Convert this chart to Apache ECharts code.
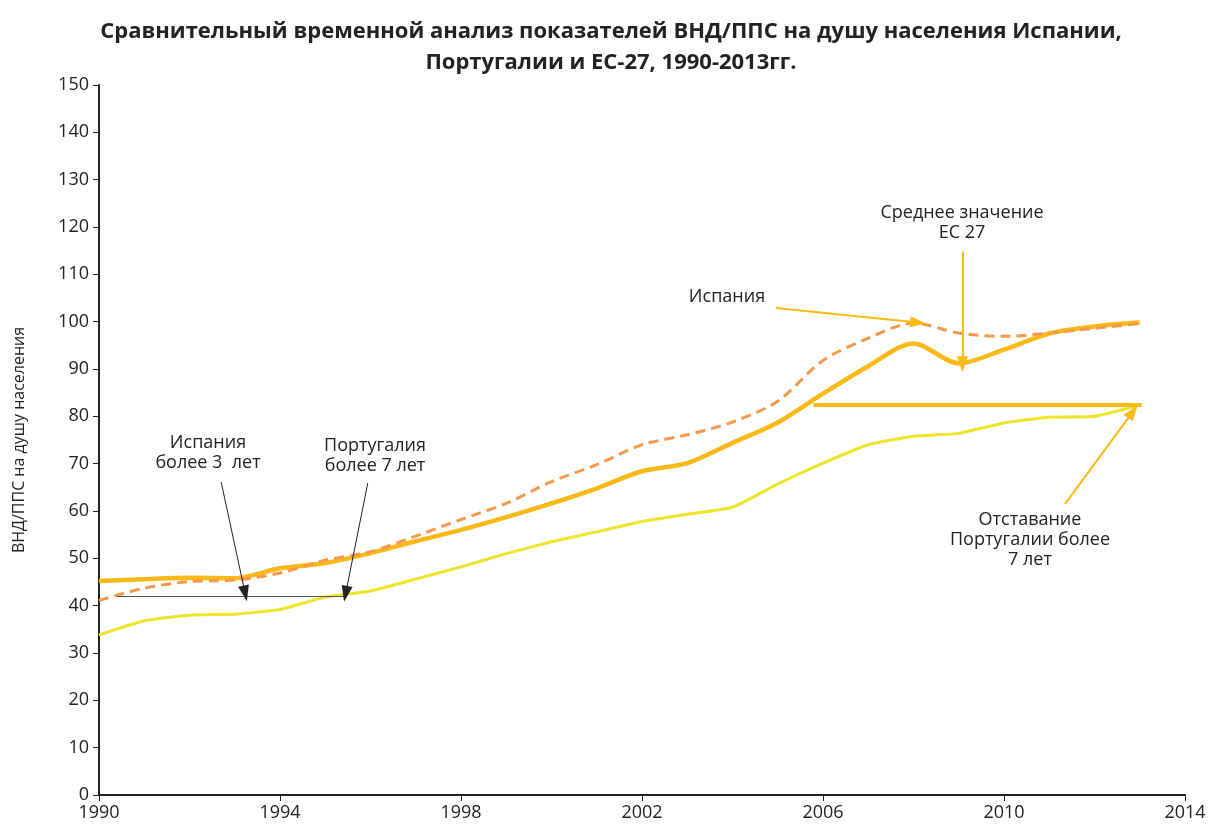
<!DOCTYPE html>
<html>
<head>
<meta charset="utf-8">
<title>ВНД/ППС на душу населения</title>
<script src="https://cdn.jsdelivr.net/npm/echarts@6/dist/echarts.min.js"></script>
<style>
    html, body { margin: 0; padding: 0; background: #fff; }
    #chart { width: 1222px; height: 830px; }
</style>
</head>
<body>
<div id="chart"></div>
<script>
// годы и значения (ЕС-27 = 100 к 2013)
var years = [1990, 1991, 1992, 1993, 1994, 1995, 1996, 1997, 1998, 1999, 2000, 2001,
             2002, 2003, 2004, 2005, 2006, 2007, 2008, 2009, 2010, 2011, 2012, 2013];
var eu27 = [45.2, 45.6, 45.9, 45.8, 47.9, 49.0, 51.1, 53.6, 56.0, 58.7, 61.6, 64.8,
            68.4, 70.1, 74.4, 78.7, 84.8, 90.6, 95.4, 91.2, 94.1, 97.5, 99.0, 99.8];
var spain = [41.1, 43.7, 45.1, 45.4, 46.9, 49.6, 51.4, 54.7, 58.2, 61.6, 66.2, 69.8,
             74.0, 76.1, 78.8, 83.2, 91.8, 96.5, 99.7, 97.6, 96.9, 97.6, 98.6, 99.6];
var portugal = [33.8, 36.8, 38.0, 38.2, 39.2, 41.8, 43.1, 45.6, 48.2, 51.0, 53.5, 55.6,
                57.8, 59.3, 60.8, 65.7, 70.1, 74.0, 75.8, 76.4, 78.6, 79.8, 80.0, 82.4];

var titleText = 'Сравнительный временной анализ показателей ВНД/ППС на душу населения Испании,\nПортугалии и ЕС-27, 1990-2013гг.';
var yName = 'ВНД/ППС на душу населения';

var cEU = '#FBB917';
var cSpain = '#F7984A';
var cPort = '#ECE52A';
var cArrow = '#FDBA14';
var fontFam = '"Open Sans", "Noto Sans", sans-serif';

function pairs(vals) {
    var out = [];
    for (var i = 0; i < years.length; i++) {
        out.push([years[i], vals[i]]);
    }
    return out;
}

//стрелка в координатах данных
function arrow(x1, y1, x2, y2, color, width) {
    return [
        { coord: [x1, y1], symbol: 'none', lineStyle: { color: color, width: width, type: 'solid' } },
        { coord: [x2, y2], symbol: 'triangle', symbolSize: [11, 16] }
    ];
}
function segment(x1, y1, x2, y2, color, width) {
    return [
        { coord: [x1, y1], symbol: 'none', lineStyle: { color: color, width: width, type: 'solid' } },
        { coord: [x2, y2], symbol: 'none' }
    ];
}

var notes = [
    { text: 'Испания\nболее 3  лет', x: 208, y: 453 },
    { text: 'Португалия\nболее 7 лет', x: 375, y: 456 },
    { text: 'Испания', x: 727, y: 297 },
    { text: 'Среднее значение\nЕС 27', x: 962, y: 223 },
    { text: 'Отставание\nПортугалии более\n7 лет', x: 1030, y: 540 }
];

var myChart = echarts.init(document.getElementById('chart'));
var option = {
    animation: false,
    backgroundColor: '#fff',
    title: {
        text: titleText,
        left: 'center',
        top: 11,
        textStyle: {
            fontFamily: fontFam,
            fontSize: 22,
            fontWeight: 'bold',
            color: '#222',
            lineHeight: 31
        }
    },
    grid: { left: 99, right: 37, top: 85, bottom: 35 },
    xAxis: {
        type: 'value',
        min: 1990,
        max: 2014,
        interval: 4,
        axisLine: { lineStyle: { color: '#222', width: 2 } },
        axisTick: { show: true, length: 6, lineStyle: { color: '#222', width: 1 } },
        axisLabel: {
            color: '#222', fontSize: 18, fontFamily: fontFam, margin: 9,
            formatter: function (v) { return String(v); }
        },
        splitLine: { show: false }
    },
    yAxis: {
        type: 'value',
        min: 0,
        max: 150,
        interval: 10,
        name: yName,
        nameLocation: 'middle',
        nameGap: 72,
        nameTextStyle: { color: '#222', fontSize: 16, fontFamily: fontFam },
        axisLine: { show: true, lineStyle: { color: '#222', width: 2 } },
        axisTick: { show: true, length: 6, lineStyle: { color: '#222', width: 1 } },
        axisLabel: { color: '#222', fontSize: 18, fontFamily: fontFam, margin: 10 },
        splitLine: { show: false }
    },
    series: [
        {
            name: 'Португалия',
            type: 'line',
            data: pairs(portugal),
            showSymbol: false,
            smooth: 0.15,
            lineStyle: { color: cPort, width: 3 },
            z: 3,
            markLine: {
                silent: true,
                label: { show: false },
                symbolSize: [11, 16],
                data: [
                    segment(1990.4, 42.0, 1995.45, 42.0, '#555', 1),
                    arrow(1992.70, 66.1, 1993.23, 42.6, '#222', 1),
                    arrow(1995.94, 65.9, 1995.45, 42.5, '#222', 1),
                    segment(2005.79, 82.4, 2013.04, 82.4, cEU, 4),
                    arrow(2004.96, 102.9, 2008.1, 99.8, cArrow, 2),
                    arrow(2009.08, 114.8, 2009.08, 91.0, cArrow, 2),
                    arrow(2011.35, 61.5, 2012.85, 81.0, cArrow, 2)
                ]
            }
        },
        {
            name: 'Испания',
            type: 'line',
            data: pairs(spain),
            showSymbol: false,
            smooth: 0.3,
            lineStyle: { color: cSpain, width: 3, type: [10, 6] },
            z: 4
        },
        {
            name: 'ЕС-27',
            type: 'line',
            data: pairs(eu27),
            showSymbol: false,
            smooth: 0.3,
            lineStyle: { color: cEU, width: 4.5 },
            z: 2
        }
    ],
    graphic: notes.map(function (n) {
        return {
            type: 'text',
            x: n.x,
            y: n.y,
            style: {
                text: n.text,
                fill: '#222',
                font: '18px ' + fontFam,
                align: 'center',
                verticalAlign: 'middle',
                lineHeight: 20
            }
        };
    })
};
myChart.setOption(option);
</script>
</body>
</html>
